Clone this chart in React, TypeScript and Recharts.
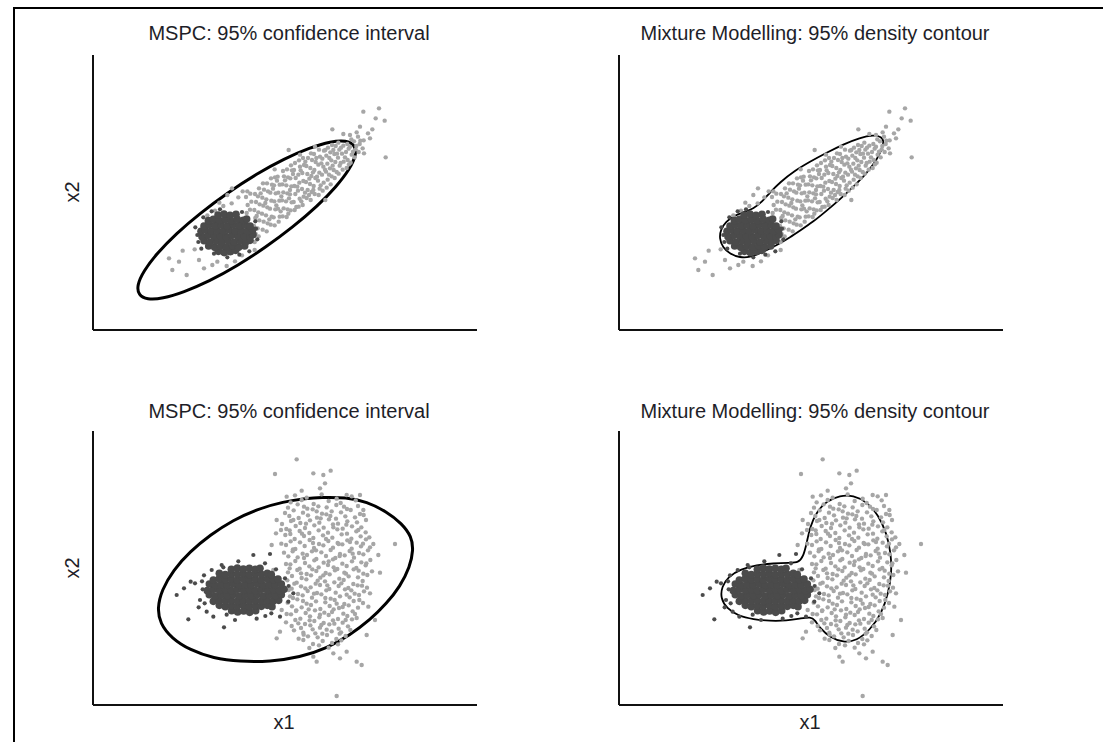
import { ComposedChart, Scatter, Line, XAxis, YAxis } from 'recharts';

type Pt = [number, number];

// panel titles and axis labels
const titleLeft = 'MSPC: 95% confidence interval';
const titleRight = 'Mixture Modelling: 95% density contour';
const xLabel = 'x1';
const yLabel = 'x2';

// top row: dark cluster core (in control data)
const topDark: Pt[] = [
  [41.5, 26.6], [43.3, 26.2], [45.1, 26.5], [46.7, 26.9],
  [38.6, 28.2], [40.4, 27.8], [42.2, 28.1], [44.0, 27.9], [45.8, 28.3], [47.6, 27.8], [49.4, 28.2],
  [37.2, 29.8], [39.0, 29.4], [40.8, 29.7], [42.6, 29.5], [44.4, 29.8], [46.2, 29.4], [48.0, 29.7], [49.8, 29.5], [51.0, 29.9],
  [36.6, 31.0], [38.4, 31.4], [40.2, 31.1], [42.0, 31.3], [43.8, 31.0], [45.6, 31.4], [47.4, 31.1], [49.2, 31.3], [51.0, 31.0], [51.9, 31.6],
  [36.3, 32.6], [37.6, 33.0], [39.4, 32.7], [41.2, 32.9], [43.0, 32.6], [44.8, 33.0], [46.6, 32.7], [48.4, 32.9], [50.2, 32.6], [51.8, 33.0],
  [37.2, 34.2], [38.8, 34.6], [40.6, 34.3], [42.4, 34.5], [44.2, 34.2], [46.0, 34.6], [47.8, 34.3], [49.6, 34.5], [51.0, 34.2],
  [38.5, 35.8], [40.0, 36.2], [41.8, 35.9], [43.6, 36.1], [45.4, 35.8], [47.2, 36.2], [49.0, 35.9], [50.0, 36.3],
  [41.4, 37.5], [43.2, 37.8], [45.0, 37.4], [46.8, 37.7],
];

// top row: scattered dark points round the core
const topDarkEdge: Pt[] = [
  [35.2, 31.5], [52.8, 33.4], [44.2, 24.8], [39.5, 38.6], [48.6, 38.4], [53.2, 30.2], [36.4, 27.4], [50.8, 26.6],
  [34.6, 33.8], [42.0, 39.2], [35.5, 29.4], [52.6, 35.6], [47.8, 25.6], [40.2, 25.9], [37.0, 36.8],
];

// top row: light grey cluster (drifting data)
const topGray: Pt[] = [
  [26.7, 24.5], [27.7, 21.0], [29.7, 23.5], [32.0, 19.5], [35.7, 24.0], [37.2, 21.5], [39.7, 22.5], [41.2, 23.5],
  [44.0, 22.2], [46.5, 23.6], [34.4, 27.2], [48.6, 25.4], [30.8, 26.8], [52.4, 27.0],
  [40.5, 38.8], [43.0, 40.2], [45.5, 41.0], [47.5, 42.8], [44.2, 43.5], [41.8, 41.2], [38.2, 37.4], [48.8, 44.6],
  [50.0, 38.1], [50.3, 40.5], [49.8, 42.9], [50.2, 44.6],
  [51.2, 29.9], [51.5, 34.5], [51.0, 39.1], [51.4, 41.5], [51.1, 43.9],
  [52.4, 29.4], [52.7, 31.8], [52.2, 34.2], [52.6, 36.6], [52.3, 39.0], [52.8, 41.4], [52.5, 43.8],
  [53.6, 31.1], [53.3, 33.5], [53.8, 35.9], [53.5, 38.3], [53.9, 40.7], [53.4, 43.1], [53.7, 45.5],
  [54.8, 33.1], [55.1, 35.5], [54.6, 37.9], [55.0, 40.3], [54.7, 42.7], [55.2, 45.1], [54.9, 47.0],
  [56.0, 32.6], [56.3, 35.0], [55.8, 37.4], [56.2, 39.8], [55.9, 42.2], [56.4, 44.6], [56.1, 47.0],
  [57.2, 34.6], [57.5, 37.0], [57.0, 39.4], [57.4, 41.8], [57.1, 44.2], [57.6, 46.6], [57.3, 48.5],
  [58.4, 34.4], [58.1, 36.8], [58.6, 39.2], [58.3, 41.6], [58.7, 44.0], [58.2, 46.4], [58.5, 48.8],
  [59.6, 35.5], [59.9, 37.0], [59.4, 39.4], [59.8, 41.8], [59.5, 44.2], [59.9, 46.6], [59.3, 49.0],
  [60.8, 37.1], [61.1, 39.5], [60.6, 41.9], [61.0, 44.3], [60.7, 46.7], [61.2, 49.1], [60.9, 50.7],
  [62.0, 36.9], [62.3, 39.2], [61.8, 41.6], [62.2, 44.0], [61.9, 46.4], [62.4, 48.8], [62.1, 51.2],
  [63.2, 38.9], [63.5, 41.3], [63.0, 43.7], [63.4, 46.1], [63.1, 48.5], [63.6, 50.9], [63.3, 52.4],
  [64.4, 39.0], [64.1, 41.4], [64.6, 43.8], [64.3, 46.2], [64.7, 48.6], [64.2, 51.0], [64.5, 53.1],
  [65.6, 40.0], [65.9, 42.4], [65.4, 44.8], [65.8, 47.2], [65.5, 49.6], [66.0, 52.0], [65.7, 53.9],
  [66.8, 40.5], [67.1, 43.0], [66.6, 45.3], [67.0, 47.7], [66.7, 50.1], [67.2, 52.5], [66.9, 54.6],
  [68.0, 42.6], [68.3, 45.0], [67.8, 47.4], [68.2, 49.8], [67.9, 52.2], [68.4, 54.6],
  [69.2, 42.0], [69.5, 44.4], [69.0, 46.8], [69.4, 49.2], [69.1, 51.6], [69.6, 54.0], [69.3, 56.0],
  [70.4, 43.8], [70.1, 46.2], [70.6, 48.6], [70.3, 51.0], [70.7, 53.4], [70.2, 55.8],
  [71.6, 43.5], [71.9, 45.4], [71.4, 47.8], [71.8, 50.2], [71.5, 52.6], [72.0, 55.0], [71.7, 57.1],
  [72.8, 44.8], [73.1, 47.2], [72.6, 49.6], [73.0, 52.0], [72.7, 54.4], [73.2, 56.8],
  [74.0, 45.7], [74.3, 48.1], [73.8, 50.5], [74.2, 52.9], [73.9, 55.3], [74.4, 57.7],
  [75.2, 46.7], [75.5, 49.1], [75.0, 51.5], [75.4, 53.9], [75.1, 56.3], [75.6, 58.5],
  [76.4, 48.6], [76.1, 51.0], [76.6, 53.4], [76.3, 55.8], [76.7, 58.2],
  [77.6, 49.9], [77.9, 52.3], [77.4, 54.7], [77.8, 57.1], [77.5, 59.2],
  [78.8, 51.1], [79.1, 53.5], [78.6, 55.9], [79.0, 58.3],
  [80.0, 51.6], [80.3, 54.0], [79.8, 56.4], [80.2, 58.8],
  [81.2, 53.2], [81.5, 55.6], [81.0, 58.0], [81.4, 60.2],
  [82.4, 54.8], [82.7, 57.2], [82.2, 59.6],
  [83.6, 56.4], [83.9, 58.8], [83.4, 61.0],
  [84.8, 57.5], [85.1, 59.9],
  [53.0, 37.2], [54.2, 44.0], [55.6, 41.1], [56.8, 36.2], [57.9, 45.4], [58.9, 40.4], [59.1, 47.8], [60.2, 38.6],
  [60.4, 43.1], [61.5, 47.9], [62.7, 42.5], [63.0, 45.0], [63.9, 49.8], [64.9, 39.9], [65.2, 46.0], [66.2, 50.9],
  [66.4, 41.6], [67.5, 44.2], [67.6, 53.5], [68.8, 48.4], [68.7, 43.5], [69.9, 50.3], [70.0, 45.0], [70.9, 54.6],
  [71.1, 49.0], [72.2, 46.4], [72.4, 53.0], [73.5, 51.1], [73.6, 57.0], [74.7, 49.6], [74.8, 54.6], [75.8, 52.3],
  [76.0, 57.0], [77.0, 50.4], [77.1, 55.9], [78.2, 53.1], [78.3, 57.7], [79.5, 54.8], [80.6, 57.4], [80.7, 52.7],
  [81.9, 56.5], [82.9, 58.2], [84.1, 59.8], [62.5, 37.9],
  [85.0, 68.5], [89.7, 69.5], [88.7, 66.5], [91.4, 65.8], [87.7, 63.2], [87.0, 60.5], [91.7, 54.8],
  [85.2, 56.0], [75.7, 63.2], [62.6, 57.0], [45.6, 45.5], [73.6, 42.0], [84.0, 64.0], [83.0, 62.3],
  [81.0, 61.5], [86.4, 62.0], [79.0, 61.8], [70.5, 58.0], [66.0, 55.6], [58.4, 51.2],
];

// top row: MSPC 95% ellipse
const topEllipse: Pt[] = [
  [82.5, 58.5], [82.9, 55.6], [81.0, 51.4], [77.0, 46.1], [71.2, 40.1], [63.9, 33.9], [55.7, 27.8], [47.1, 22.2],
  [38.7, 17.6], [31.0, 14.3], [24.7, 12.4], [20.1, 12.1], [17.5, 13.5], [17.1, 16.4], [19.0, 20.6], [23.0, 25.9],
  [28.8, 31.9], [36.1, 38.1], [44.3, 44.2], [52.9, 49.8], [61.3, 54.4], [69.0, 57.7], [75.3, 59.6], [79.9, 59.9],
];

// top row: mixture model 95% density contour
const topContour: Pt[] = [
  [80.2, 61.5], [82.7, 61.0], [83.4, 59.5], [82.7, 57.0], [81.2, 54.0], [78.2, 50.0], [74.2, 46.0], [70.2, 42.2],
  [66.2, 38.8], [62.2, 35.5], [58.2, 32.8], [55.2, 30.8], [52.2, 29.0], [49.2, 27.5], [46.2, 26.0], [43.2, 24.8],
  [40.2, 24.7], [37.2, 25.8], [35.0, 27.8], [34.0, 30.5], [34.4, 33.2], [36.0, 35.5], [38.4, 37.3], [41.4, 38.4],
  [44.2, 39.4], [46.7, 41.3], [49.2, 44.3], [52.2, 47.3], [56.2, 50.5], [61.2, 53.5], [66.2, 56.2], [71.2, 58.7],
  [76.2, 60.7],
];

// bottom row: dark cluster core
const bottomDark: Pt[] = [
  [45.5, 32.8], [47.3, 32.4], [49.1, 32.7], [50.9, 32.3], [52.7, 32.8],
  [41.8, 34.4], [43.6, 34.0], [45.4, 34.3], [47.2, 34.1], [49.0, 34.5], [50.8, 34.0], [52.6, 34.3], [54.4, 34.1], [56.2, 34.4], [57.6, 34.0],
  [40.0, 35.6], [41.8, 36.0], [43.6, 35.7], [45.4, 35.9], [47.2, 35.6], [49.0, 36.0], [50.8, 35.7], [52.6, 35.9], [54.4, 35.6], [56.2, 36.0], [58.0, 35.7], [59.6, 35.9],
  [38.8, 37.6], [40.6, 37.2], [42.4, 37.5], [44.2, 37.3], [46.0, 37.6], [47.8, 37.2], [49.6, 37.5], [51.4, 37.3], [53.2, 37.6], [55.0, 37.2], [56.8, 37.5], [58.6, 37.3], [60.4, 37.6],
  [38.2, 38.8], [40.0, 39.2], [41.8, 38.9], [43.6, 39.1], [45.4, 38.8], [47.2, 39.2], [49.0, 38.9], [50.8, 39.1], [52.6, 38.8], [54.4, 39.2], [56.2, 38.9], [58.0, 39.1], [59.8, 38.8], [61.2, 39.2],
  [38.8, 40.8], [40.6, 40.4], [42.4, 40.7], [44.2, 40.5], [46.0, 40.8], [47.8, 40.4], [49.6, 40.7], [51.4, 40.5], [53.2, 40.8], [55.0, 40.4], [56.8, 40.7], [58.6, 40.5], [60.4, 40.8],
  [40.0, 42.0], [41.8, 42.4], [43.6, 42.1], [45.4, 42.3], [47.2, 42.0], [49.0, 42.4], [50.8, 42.1], [52.6, 42.3], [54.4, 42.0], [56.2, 42.4], [58.0, 42.1], [59.4, 42.3],
  [41.8, 44.0], [43.6, 43.6], [45.4, 43.9], [47.2, 43.7], [49.0, 44.0], [50.8, 43.6], [52.6, 43.9], [54.4, 43.7], [56.2, 44.0], [57.4, 43.6],
  [45.4, 45.2], [47.2, 45.6], [49.0, 45.3], [50.8, 45.5], [52.6, 45.2], [54.0, 45.5],
];

// bottom row: scattered dark points round the core
const bottomDarkEdge: Pt[] = [
  [29.0, 37.5], [32.5, 30.2], [43.2, 27.8], [34.5, 41.0], [36.0, 36.0], [38.0, 32.5], [52.0, 49.5], [57.0, 49.8],
  [64.0, 38.0], [62.5, 35.5], [60.0, 31.0], [31.2, 39.5], [33.2, 41.5], [36.8, 39.2], [37.2, 43.4], [40.0, 31.0],
  [42.5, 46.5], [47.5, 47.6], [55.5, 47.0], [53.0, 30.4], [46.5, 30.0], [39.5, 45.0], [61.5, 42.5], [35.6, 33.8], [57.4, 32.0],
  [37.4, 35.0], [36.6, 41.6], [62.6, 40.2], [44.0, 31.6], [55.6, 31.2], [58.8, 45.2], [43.0, 45.8],
];

// bottom row: light grey cluster
const bottomGray: Pt[] = [
  [64.5, 67.4], [68.0, 66.7], [72.5, 67.7], [77.0, 66.4], [81.5, 67.1],
  [63.2, 65.3], [66.5, 66.0], [70.1, 64.8], [74.6, 65.7], [78.2, 65.1], [82.7, 65.9],
  [62.4, 63.7], [65.3, 64.7], [68.2, 63.4], [71.5, 64.1], [74.0, 63.8], [76.9, 64.5], [80.1, 63.3], [83.4, 64.2],
  [61.5, 62.1], [64.1, 62.9], [66.9, 62.2], [69.8, 63.2], [72.6, 61.9], [75.5, 62.6], [78.3, 62.3], [81.2, 63.0], [84.0, 61.8],
  [62.8, 61.2], [65.6, 60.6], [68.4, 61.4], [71.1, 60.7], [73.9, 61.7], [76.8, 60.4], [79.6, 61.1], [82.5, 60.8], [85.1, 61.5],
  [60.6, 58.8], [63.3, 59.7], [66.1, 59.1], [69.0, 59.9], [71.8, 59.2], [74.7, 60.2], [77.4, 58.9], [80.2, 59.6], [83.1, 59.3], [85.8, 60.0],
  [61.9, 57.3], [64.7, 58.2], [67.5, 57.6], [70.3, 58.4], [73.1, 57.7], [75.9, 58.7], [78.8, 57.4], [81.6, 58.1], [84.4, 57.8],
  [60.3, 57.0], [63.1, 55.8], [65.9, 56.7], [68.8, 56.1], [71.6, 56.9], [74.4, 56.2], [77.2, 57.2], [80.1, 55.9], [82.9, 56.6], [85.7, 56.3],
  [61.6, 55.5], [64.4, 54.3], [67.2, 55.2], [70.0, 54.6], [72.9, 55.4], [75.7, 54.7], [78.5, 55.7], [81.4, 54.4], [84.2, 55.1], [86.8, 54.8],
  [60.4, 52.9], [63.2, 53.6], [66.0, 53.3], [68.9, 54.0], [71.7, 52.8], [74.5, 53.7], [77.3, 53.1], [80.2, 53.9], [83.0, 53.2], [85.8, 54.2],
  [61.8, 52.5], [64.6, 51.3], [67.4, 52.2], [70.2, 51.6], [73.0, 52.4], [75.9, 51.7], [78.7, 52.7], [81.5, 51.4], [84.3, 52.1], [87.0, 51.8],
  [61.2, 50.2], [63.9, 51.2], [66.8, 49.9], [69.6, 50.6], [72.4, 50.3], [75.2, 51.0], [78.0, 49.8], [80.9, 50.7], [83.7, 50.1], [86.4, 50.9],
  [62.5, 49.1], [65.3, 48.8], [68.1, 49.5], [70.9, 48.3], [73.8, 49.2], [76.6, 48.6], [79.4, 49.4], [82.2, 48.7], [85.0, 49.7],
  [61.8, 46.8], [64.6, 47.7], [67.5, 47.1], [70.3, 47.9], [73.1, 47.2], [75.9, 48.2], [78.7, 46.9], [81.6, 47.6], [84.4, 47.3], [87.1, 48.0],
  [63.1, 46.7], [65.9, 45.4], [68.8, 46.1], [71.6, 45.8], [74.4, 46.5], [77.2, 45.3], [80.0, 46.2], [82.9, 45.6], [85.7, 46.4],
  [62.4, 44.3], [65.2, 45.0], [68.0, 43.8], [70.9, 44.7], [73.7, 44.1], [76.5, 44.9], [79.3, 44.2], [82.1, 45.2], [85.0, 43.9], [87.6, 44.6],
  [63.6, 43.2], [66.5, 42.6], [69.3, 43.4], [72.1, 42.7], [74.9, 43.7], [77.8, 42.4], [80.6, 43.1], [83.4, 42.8], [86.2, 43.5],
  [62.2, 41.9], [65.0, 41.2], [67.9, 42.2], [70.7, 40.9], [73.5, 41.6], [76.3, 41.3], [79.1, 42.0], [82.0, 40.8], [84.8, 41.7],
  [63.5, 39.4], [66.3, 40.1], [69.2, 39.8], [72.0, 40.5], [74.8, 39.3], [77.6, 40.2], [80.5, 39.6], [83.3, 40.4], [86.1, 39.7],
  [62.6, 39.0], [65.4, 37.8], [68.3, 38.7], [71.1, 38.1], [73.9, 38.9], [76.7, 38.2], [79.5, 39.2], [82.4, 37.9], [85.2, 38.6],
  [63.9, 36.6], [66.8, 37.4], [69.6, 36.7], [72.4, 37.7], [75.2, 36.4], [78.0, 37.1], [80.9, 36.8], [83.7, 37.5],
  [62.3, 35.2], [65.2, 36.2], [68.0, 34.9], [70.8, 35.6], [73.6, 35.3], [76.4, 36.0], [79.3, 34.8], [82.1, 35.7], [84.9, 35.1],
  [63.6, 34.1], [66.5, 33.8], [69.3, 34.5], [72.1, 33.3], [74.9, 34.2], [77.7, 33.6], [80.6, 34.4], [83.4, 33.7],
  [62.0, 31.8], [64.8, 32.7], [67.7, 32.1], [70.5, 32.9], [73.3, 32.2], [76.1, 33.2], [79.0, 31.9], [81.8, 32.6],
  [63.3, 31.7], [66.1, 30.4], [69.0, 31.1], [71.8, 30.8], [74.6, 31.5], [77.4, 30.3], [80.2, 31.2], [83.0, 30.6],
  [61.8, 29.3], [64.6, 30.0], [67.5, 28.8], [70.3, 29.7], [73.1, 29.1], [75.9, 29.9], [78.8, 29.2], [81.6, 30.2],
  [63.5, 28.2], [66.3, 27.6], [69.1, 28.4], [72.0, 27.7], [74.8, 28.7], [77.6, 27.4], [80.4, 28.1],
  [64.2, 26.9], [67.0, 26.2], [69.8, 27.2], [72.7, 25.9], [75.5, 26.6], [78.3, 26.3], [81.1, 27.0],
  [65.6, 24.4], [68.4, 25.1], [71.3, 24.8], [74.1, 25.5], [76.9, 24.3], [79.7, 25.2],
  [67.0, 24.0], [69.9, 22.8], [72.8, 23.7], [75.6, 23.1], [78.4, 23.9],
  [68.8, 21.6], [71.7, 22.4], [74.6, 21.7], [77.4, 22.7],
  [64.0, 60.0], [67.8, 58.9], [72.2, 60.5], [76.0, 57.8], [79.9, 58.6], [83.5, 57.0], [62.9, 56.9], [66.6, 55.9],
  [69.9, 53.1], [73.8, 54.3], [77.6, 52.8], [81.0, 53.4], [84.9, 52.9], [63.8, 50.6], [67.2, 48.6], [70.8, 50.9],
  [74.6, 47.6], [77.9, 49.2], [81.8, 49.9], [85.9, 47.0], [62.9, 45.5], [66.3, 44.0], [69.7, 45.2], [73.0, 43.4],
  [76.1, 45.8], [79.8, 43.9], [83.6, 44.8], [64.3, 40.9], [67.6, 39.5], [71.3, 41.8], [74.2, 40.4], [78.4, 41.0],
  [81.4, 38.9], [84.6, 40.3], [63.0, 37.1], [66.9, 35.7], [70.2, 37.9], [73.6, 36.6], [77.0, 34.9], [80.0, 37.6],
  [83.8, 36.0], [64.9, 32.9], [68.6, 33.2], [72.0, 31.6], [75.6, 32.4], [78.8, 33.9], [82.5, 31.8], [65.5, 29.0],
  [68.9, 29.9], [72.4, 28.5], [76.3, 28.9], [79.7, 30.0], [67.1, 25.6], [70.6, 26.0], [74.0, 27.1], [77.9, 25.9],
  [71.0, 62.6], [75.1, 61.2], [79.2, 64.0], [67.2, 64.0],
  [65.0, 78.2], [58.5, 73.8], [70.0, 74.0], [73.0, 73.5], [75.2, 74.8], [73.5, 71.0], [66.5, 68.8], [72.0, 69.5],
  [77.0, 7.2], [84.5, 16.5], [83.0, 17.5], [70.0, 19.0], [76.0, 20.0], [80.0, 20.5], [60.0, 26.5], [59.0, 24.5],
  [86.0, 25.5], [94.5, 52.8], [90.0, 44.2], [88.0, 52.8], [87.0, 38.0], [86.5, 34.0], [57.5, 52.5], [59.0, 60.0],
  [62.0, 67.0], [84.0, 67.5], [80.0, 67.5], [85.0, 63.0], [89.5, 49.5], [88.5, 30.0], [71.0, 17.5], [78.0, 18.5],
  [58.0, 45.0], [59.2, 38.5], [60.5, 33.0], [58.8, 56.0],
];

// bottom row: MSPC 95% ellipse
const bottomEllipse: Pt[] = [
  [72.0, 66.8], [80.0, 66.8], [86.0, 65.5], [92.0, 62.5], [96.5, 59.0], [99.5, 55.0], [100.0, 51.0], [99.0, 46.0],
  [96.0, 40.0], [92.0, 35.0], [87.0, 30.0], [81.0, 25.5], [74.0, 21.5], [66.0, 18.8], [57.0, 17.5], [48.0, 17.5],
  [40.0, 18.5], [33.0, 21.0], [27.5, 24.5], [24.0, 29.0], [23.2, 33.5], [24.5, 39.0], [28.0, 45.0], [33.0, 50.5],
  [39.0, 55.5], [46.0, 60.0], [53.0, 63.2], [61.0, 65.5], [68.0, 66.5],
];

// bottom row: mixture model 95% density contour
const bottomContour: Pt[] = [
  [57.7, 47.2], [59.2, 49.0], [60.2, 53.0], [61.2, 58.0], [63.2, 62.5], [66.2, 65.7], [70.2, 67.4], [74.2, 67.4],
  [78.2, 65.5], [81.7, 61.5], [84.2, 56.0], [85.5, 50.0], [85.7, 44.0], [84.7, 38.0], [82.7, 32.0], [79.2, 27.0],
  [75.2, 23.8], [71.2, 23.2], [67.2, 24.8], [64.2, 27.5], [62.7, 30.0], [61.4, 31.0], [58.2, 30.4], [54.2, 29.8],
  [49.2, 29.7], [44.2, 30.2], [39.7, 31.2], [36.2, 33.5], [34.4, 36.5], [34.7, 40.0], [36.7, 43.0], [40.2, 45.2],
  [45.2, 46.5], [50.2, 47.0], [55.2, 47.2],
];

const toRows = (pts: Pt[]) => pts.map(([x, y]) => ({ x, y }));

const DARK = '#4b4b4b';
const GRAY = '#a6a6a6';
const FONT = '"Liberation Sans", Arial, Helvetica, sans-serif';

const dot = (r: number, fill: string) => (p: any) =>
  p.cx == null ? <g /> : <circle cx={p.cx} cy={p.cy} r={r} fill={fill} />;

interface PanelProps {
  left: number;
  top: number;
  height: number;
  yDomain: [number, number];
  dark: Pt[];
  darkEdge: Pt[];
  gray: Pt[];
  contour: Pt[];
  lineWidth: number;
}

function Panel({ left, top, height, yDomain, dark, darkEdge, gray, contour, lineWidth }: PanelProps) {
  const axisLine = { stroke: '#111', strokeWidth: 2 };
  return (
    <div style={{ position: 'absolute', left, top }}>
      <ComposedChart width={394} height={height} margin={{ top: 5, right: 5, bottom: 4, left: 4 }}>
        <XAxis type="number" dataKey="x" domain={[3.9, 119.1]} allowDataOverflow height={1}
          tick={false} tickLine={false} axisLine={axisLine} />
        <YAxis type="number" dataKey="y" domain={yDomain} allowDataOverflow width={1}
          tick={false} tickLine={false} axisLine={axisLine} />
        <Scatter data={toRows(gray)} fill={GRAY} shape={dot(2.2, GRAY)} isAnimationActive={false} />
        <Scatter data={toRows(darkEdge)} fill={DARK} shape={dot(2.1, DARK)} isAnimationActive={false} />
        <Scatter data={toRows(dark)} fill={DARK} shape={dot(3.8, DARK)} isAnimationActive={false} />
        <Line data={toRows(contour)} dataKey="y" type="basisClosed" stroke="#000" strokeWidth={lineWidth}
          dot={false} activeDot={false} isAnimationActive={false} />
      </ComposedChart>
    </div>
  );
}

const textBase: React.CSSProperties = {
  position: 'absolute',
  fontFamily: FONT,
  fontSize: 20,
  color: '#1e1e28',
  whiteSpace: 'nowrap',
  transform: 'translate(-50%, -50%)',
  lineHeight: 1,
};

export default function App() {
  return (
    <div style={{ position: 'absolute', left: 0, top: 0, width: 1103, height: 742, background: '#fff', overflow: 'hidden' }}>
      <div style={{ position: 'absolute', left: 13, top: 7, width: 1090, height: 2, background: '#000' }} />
      <div style={{ position: 'absolute', left: 13, top: 7, width: 2, height: 735, background: '#000' }} />

      <div style={{ ...textBase, left: 289, top: 33 }}>{titleLeft}</div>
      <div style={{ ...textBase, left: 815, top: 33 }}>{titleRight}</div>
      <div style={{ ...textBase, left: 289, top: 411 }}>{titleLeft}</div>
      <div style={{ ...textBase, left: 815, top: 411 }}>{titleRight}</div>

      <div style={{ ...textBase, left: 72, top: 192, transform: 'translate(-50%, -50%) rotate(-90deg)' }}>{yLabel}</div>
      <div style={{ ...textBase, left: 72, top: 568, transform: 'translate(-50%, -50%) rotate(-90deg)' }}>{yLabel}</div>
      <div style={{ ...textBase, left: 284, top: 722 }}>{xLabel}</div>
      <div style={{ ...textBase, left: 810, top: 722 }}>{xLabel}</div>

      <Panel left={88} top={50} height={285} yDomain={[3, 85.5]} dark={topDark} darkEdge={topDarkEdge}
        gray={topGray} contour={topEllipse} lineWidth={3} />
      <Panel left={614} top={50} height={285} yDomain={[3, 85.5]} dark={topDark} darkEdge={topDarkEdge}
        gray={topGray} contour={topContour} lineWidth={1.8} />
      <Panel left={88} top={426} height={284} yDomain={[4.5, 86.7]} dark={bottomDark} darkEdge={bottomDarkEdge}
        gray={bottomGray} contour={bottomEllipse} lineWidth={3} />
      <Panel left={614} top={426} height={284} yDomain={[4.5, 86.7]} dark={bottomDark} darkEdge={bottomDarkEdge}
        gray={bottomGray} contour={bottomContour} lineWidth={1.8} />
    </div>
  );
}
